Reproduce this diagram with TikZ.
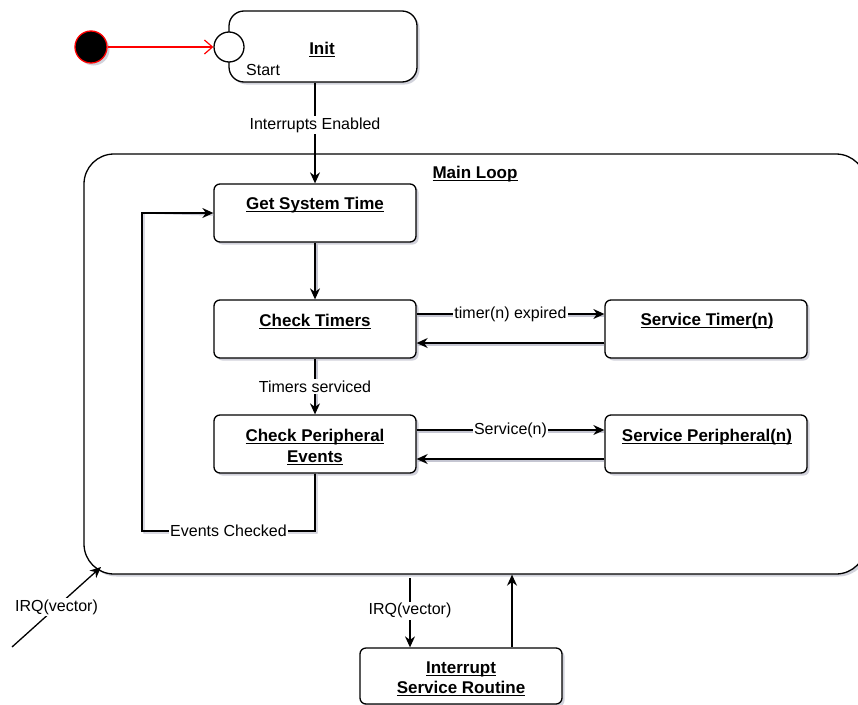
\documentclass[tikz,border=0pt]{standalone}
\usepackage{fontspec}
\setmainfont{Liberation Sans}
\usetikzlibrary{arrows.meta,shadows,calc}
\definecolor{shcol}{RGB}{140,142,165}
\newcommand{\myul}[1]{\setbox0=\hbox{#1}\rlap{\raisebox{-2.4pt}{\rule{\wd0}{1.1pt}}}\box0}
\tikzset{
  bshadow/.style={drop shadow={shadow xshift=2.5pt, shadow yshift=-2.5pt, opacity=0.4, fill=shcol}},
  box/.style={draw, line width=1.3pt, rounded corners=6pt, fill=white, minimum width=202pt, minimum height=58pt, inner sep=0pt, bshadow},
  title/.style={font=\fontsize{17}{20.5}\selectfont\bfseries, align=center, inner sep=0pt},
  lbl/.style={font=\fontsize{16}{19}\selectfont, fill=white, inner sep=1.5pt},
  arr/.style={line width=1.3pt, -{Stealth[length=11pt,width=10pt]}},
  eshadow/.style={draw=shcol!50, line width=1.3pt},
}
\begin{document}
\begin{tikzpicture}[x=1pt,y=-1pt]
\useasboundingbox (0,0) rectangle (858,704);
\clip (0,0) rectangle (858,704);

% Init
\node[box, minimum width=188pt, minimum height=71pt, rounded corners=15pt] (init) at (323,46.5) {};
\node[title] (initt) at (322,49.5) {\myul{Init}};
\node[circle, draw, fill=white, line width=1.3pt, minimum size=30pt, inner sep=0pt] (initc) at (229,47) {};
\node[lbl, fill=none, anchor=west, inner sep=0pt] (startt) at (246,70) {Start};
\node[circle, draw=red, fill=black, line width=1.3pt, minimum size=32pt, inner sep=0pt, bshadow] (sdot) at (91,47) {};
\draw[red, line width=1.2pt, -{Straight Barb[length=8pt,width=14pt]}] (sdot) -- (initc);

% Main loop
\node[draw, line width=1.3pt, rounded corners=30pt, fill=white, minimum width=782pt, minimum height=420pt, inner sep=0pt, bshadow] (main) at (475,364) {};
\node[title] (maint) at (475,174.5) {\myul{Main Loop}};

% States
\node[box] (gst) at (315,213) {};
\node[title] (gstt) at (315,205.5) {\myul{Get System Time}};
\node[box] (ct) at (315,329) {};
\node[title] (ctt) at (315,321.5) {\myul{Check Timers}};
\node[box] (st) at (706,329) {};
\node[title] (stt) at (707,321.5) {\myul{Service Timer(n)}};
\node[box] (cpe) at (315,444) {};
\node[title] (cpet) at (315,447) {\myul{Check Peripheral}\\\myul{Events}};
\node[box] (sp) at (706,444) {};
\node[title] (spt) at (707,437.5) {\myul{Service Peripheral(n)}};
\node[box, minimum height=56pt] (isr) at (461,676) {};
\node[title] (isrt) at (461,679) {\myul{Interrupt}\\\myul{Service Routine}};

% Connectors
\draw[arr] (gst.north |- init.south) -- node[lbl, pos=0.42]{Interrupts Enabled} (gst.north);
\draw[eshadow] ([xshift=2pt]gst.south) -- ([xshift=2pt,yshift=8pt]ct.north);
\draw[arr] (gst.south) -- (ct.north);
\draw[eshadow] ([xshift=2pt]ct.south) -- ([xshift=2pt,yshift=8pt]cpe.north);
\draw[arr] (ct.south) -- node[lbl]{Timers serviced} (cpe.north);

\draw[eshadow] ([yshift=13pt]ct.east) -- ([yshift=13pt]ct.east -| st.west);
\draw[arr] ([yshift=15pt]ct.east) -- node[lbl]{timer(n) expired} ([yshift=15pt]ct.east -| st.west);
\draw[eshadow] ([yshift=-16pt]st.west) -- ([yshift=-16pt]st.west -| ct.east);
\draw[arr] ([yshift=-14pt]st.west) -- ([yshift=-14pt]st.west -| ct.east);

\draw[eshadow] ([yshift=12pt]cpe.east) -- ([yshift=12pt]cpe.east -| sp.west);
\draw[arr] ([yshift=14pt]cpe.east) -- node[lbl]{Service(n)} ([yshift=14pt]cpe.east -| sp.west);
\draw[eshadow] ([yshift=-17pt]sp.west) -- ([yshift=-17pt]sp.west -| cpe.east);
\draw[arr] ([yshift=-15pt]sp.west) -- ([yshift=-15pt]sp.west -| cpe.east);

\coordinate (loopc) at (142,531);
\coordinate (loopcs) at (144,533);
\draw[eshadow] ([xshift=2pt]cpe.south) -- ([xshift=2pt]cpe.south |- loopcs) -- (loopcs) -- (loopcs |- gst.west) -- ([yshift=-2pt]gst.west);
\draw[arr] (cpe.south) -- (cpe.south |- loopc) -- node[lbl]{Events Checked} (loopc) -- (loopc |- gst.west) -- (gst.west);

\coordinate (irqsrc) at (12,647);
\coordinate (irqtip) at (101,567);
\draw[arr] (irqsrc) -- node[lbl]{IRQ(vector)} (irqtip);

\coordinate (irqout) at (410,578);
\draw[arr] (irqout) -- node[lbl, pos=0.47]{IRQ(vector)} (irqout |- isr.north);
\coordinate (isrup) at ([xshift=51pt]isr.north);
\draw[arr] (isrup) -- (isrup |- main.south);
\end{tikzpicture}
\end{document}
